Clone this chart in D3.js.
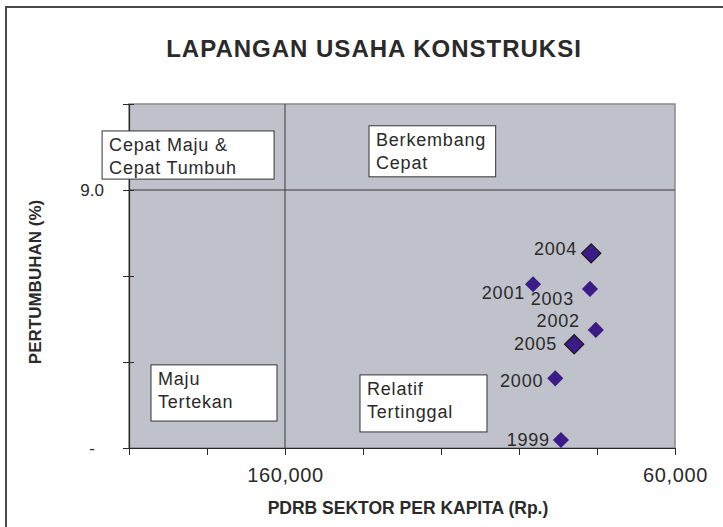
<!DOCTYPE html>
<html>
<head>
<meta charset="utf-8">
<script src="https://cdnjs.cloudflare.com/ajax/libs/d3/7.8.5/d3.min.js"></script>
<style>
  body { margin: 0; background: #fff; }
  text { font-family: "Liberation Sans", Arial, sans-serif; fill: #2a2a2a; }
</style>
</head>
<body>
<div id="content"></div>
<script>
// data
var years = ['1999', '2000', '2001', '2002', '2003', '2004', '2005']
var pdrb = [89250, 90700, 96400, 80300, 81800, 81500, 85850]      // Rp. per kapita
var growth = [0.28, 2.43, 5.71, 4.12, 5.55, 6.79, 3.62]            // %
var xTicks = [200000, 180000, 160000, 140000, 120000, 100000, 80000, 60000]
var xTickLabels = ['', '', '160,000', '', '', '', '', '60,000']
var yTicks = [0, 3, 6, 9, 12]
var yTickLabels = ['-', '', '', '9.0', '']
var xSplit = 160000, ySplit = 9.0
// quadrant boxes: [x0, x1, yTop, yBottom] in data units
var quadNames = [['Cepat Maju &', 'Cepat Tumbuh'], ['Berkembang', 'Cepat'], ['Maju', 'Tertekan'], ['Relatif', 'Tertinggal']]
var quadX0 = [206900, 138460, 194360, 140770]
var quadX1 = [162800, 105980, 162050, 108210]
var quadY0 = [11.06, 11.24, 2.90, 2.55]
var quadY1 = [9.38, 9.46, 0.94, 0.56]

// label placement (px offsets from the marker)
var labelDx = [-11, -12, -8, -16, -16, -14, -17]
var labelDy = [6, 9, 15, -3, 16, 2, 6]
var outlined = ['2004', '2005']

var width = 723, height = 527
var svg = d3.select('#content')
    .append('svg')
    .attr('width', width)
    .attr('height', height)

// outer chart frame
svg.append('rect')
    .attr('x', 6).attr('y', 7)
    .attr('width', 740).attr('height', 540)
    .attr('fill', 'none')
    .attr('stroke', '#4a4a4a')
    .attr('stroke-width', 2)

var x = d3.scaleLinear().domain([200000, 60000]).range([129, 675])
var y = d3.scaleLinear().domain([0, 12]).range([448, 104])

// plot area
svg.append('rect')
    .attr('x', x(200000)).attr('y', y(12))
    .attr('width', x(60000) - x(200000))
    .attr('height', y(0) - y(12))
    .attr('fill', '#bfc2ca')
    .attr('stroke', '#8a8a8a')
    .attr('stroke-width', 1.5)

// quadrant dividers
svg.append('line')
    .attr('x1', x(xSplit)).attr('x2', x(xSplit))
    .attr('y1', y(12)).attr('y2', y(0))
    .attr('stroke', '#3a3a3a')
svg.append('line')
    .attr('x1', x(200000)).attr('x2', x(60000))
    .attr('y1', y(ySplit)).attr('y2', y(ySplit))
    .attr('stroke', '#3a3a3a')

// axes
var xAxis = d3.axisBottom(x)
    .tickValues(xTicks)
    .tickSizeInner(7).tickSizeOuter(0).tickPadding(8)
    .tickFormat((d, i) => xTickLabels[i])
var gx = svg.append('g')
    .attr('transform', `translate(0,${y(0)})`)
    .call(xAxis)
var yAxis = d3.axisLeft(y)
    .tickValues(yTicks)
    .tickSizeInner(6).tickSizeOuter(0).tickPadding(19)
    .tickFormat((d, i) => yTickLabels[i])
var gy = svg.append('g')
    .attr('transform', `translate(${x(200000)},0)`)
    .call(yAxis)

gy.selectAll('.tick line').attr('x2', -6).attr('x1', 5)
;[gx, gy].forEach(g => {
    g.select('.domain').attr('stroke', '#2a2a2a').attr('stroke-width', 1.2)
    g.selectAll('.tick line').attr('stroke', '#2a2a2a')
    g.selectAll('.tick text')
        .attr('fill', '#2a2a2a')
        .style('font-family', '"Liberation Sans", Arial, sans-serif')
})
gx.selectAll('.tick text').style('font-size', '20px').style('letter-spacing', '0.6px').attr('dy', '0.95em')
gy.selectAll('.tick text').style('font-size', '17px')
gy.selectAll('.tick').filter(d => d === 0).select('text').attr('text-anchor', 'middle').attr('x', -37)

// quadrant label boxes
var quads = svg.append('g').selectAll('g')
    .data(quadNames)
    .join('g')
quads.append('rect')
    .attr('x', (d, i) => x(quadX0[i]))
    .attr('y', (d, i) => y(quadY0[i]))
    .attr('width', (d, i) => x(quadX1[i]) - x(quadX0[i]))
    .attr('height', (d, i) => y(quadY1[i]) - y(quadY0[i]))
    .attr('fill', '#fff')
    .attr('stroke', '#333')
quads.each(function (d, i) {
    d3.select(this).selectAll('text')
        .data(d)
        .join('text')
        .attr('x', x(quadX0[i]) + 7)
        .attr('y', (t, j) => y(quadY0[i]) + 20 + j * 23)
        .style('font-size', '18px')
        .style('letter-spacing', '0.8px')
        .text(t => t)
})

// points
var pts = years.map((yr, i) => ({ year: yr, x: pdrb[i], y: growth[i], dx: labelDx[i], dy: labelDy[i] }))
var big = d => outlined.includes(d.year)
svg.append('g').selectAll('rect')
    .data(pts)
    .join('rect')
    .attr('x', d => big(d) ? -6.8 : -5.7)
    .attr('y', d => big(d) ? -6.8 : -5.7)
    .attr('width', d => big(d) ? 13.6 : 11.4)
    .attr('height', d => big(d) ? 13.6 : 11.4)
    .attr('transform', d => `translate(${x(d.x)},${y(d.y)}) rotate(45)`)
    .attr('fill', '#3b1c86')
    .attr('stroke', d => big(d) ? '#1a1a1a' : 'none')
    .attr('stroke-width', 1.2)

svg.append('g').selectAll('text')
    .data(pts)
    .join('text')
    .attr('x', d => x(d.x) + d.dx)
    .attr('y', d => y(d.y) + d.dy)
    .attr('text-anchor', 'end')
    .style('font-size', '18px')
    .style('letter-spacing', '0.8px')
    .text(d => d.year)

// titles
svg.append('text')
    .attr('x', 374).attr('y', 57)
    .attr('text-anchor', 'middle')
    .style('font-size', '24px')
    .style('font-weight', 'bold')
    .style('letter-spacing', '1px')
    .text('LAPANGAN USAHA KONSTRUKSI')

svg.append('text')
    .attr('x', 408).attr('y', 514)
    .attr('text-anchor', 'middle')
    .style('font-size', '17.5px')
    .style('font-weight', 'bold')
    .text('PDRB SEKTOR PER KAPITA (Rp.)')

svg.append('text')
    .attr('transform', 'translate(41,282) rotate(-90)')
    .attr('text-anchor', 'middle')
    .style('font-size', '17px')
    .style('font-weight', 'bold')
    .text('PERTUMBUHAN (%)')
</script>
</body>
</html>
